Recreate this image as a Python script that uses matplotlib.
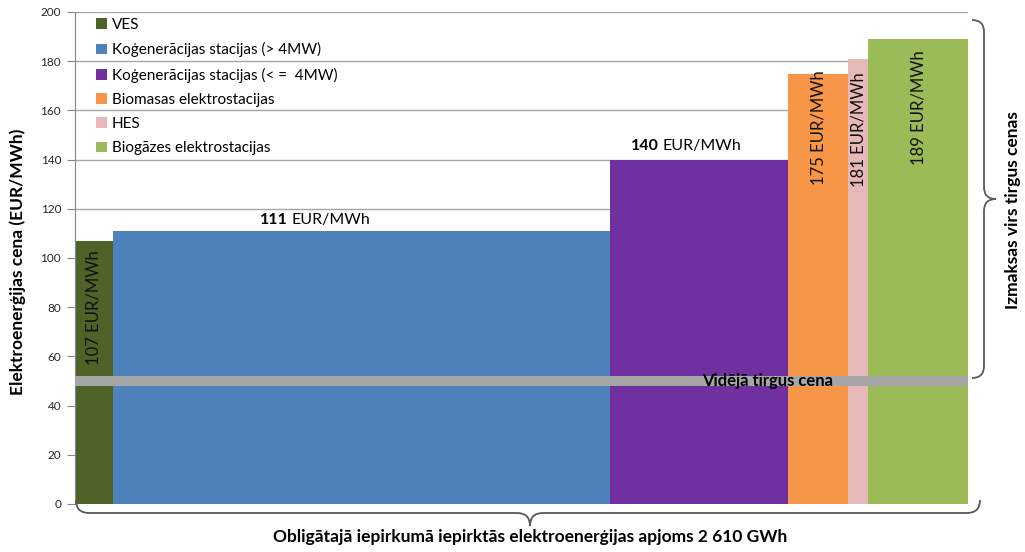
"""Obligatory procurement price chart: bar widths are volumes, heights are prices."""

import matplotlib

matplotlib.use("Agg")
import matplotlib.pyplot as plt
import numpy as np
from matplotlib.patches import Patch, PathPatch
from matplotlib.path import Path
from matplotlib.transforms import IdentityTransform

W, H = 1025, 552
FONT = "Lato"

CATEGORIES = ["VES", "Koģenerācijas stacijas (> 4MW)", "Koģenerācijas stacijas (< =  4MW)",
              "Biomasas elektrostacijas", "HES", "Biogāzes elektrostacijas"]
VOLUMES_GWH = [111, 1454, 520, 175, 58, 292]
PRICES = [107, 111, 140, 175, 181, 189]
COLORS = ["#4f6228", "#4f81bd", "#7030a0", "#f79646", "#e6b9b8", "#9bbb59"]
MARKET_PRICE = 50
TOTAL_LABEL = "Obligātajā iepirkumā iepirktās elektroenerģijas apjoms 2 610 GWh"
Y_TICKS = list(range(0, 201, 20))

plt.rcParams.update({
    "font.family": [FONT, "DejaVu Sans"],
    "axes.edgecolor": "#868686",
})


def brace(fig, start, end, depth, vertical, mid=None):
    """Curly brace in image pixels (origin top-left); bulges right/down by depth."""
    (xa, ya), (xb, yb) = start, end
    r = depth / 2.0
    if vertical:
        mid = (ya + yb) / 2.0 if mid is None else mid
        pts = [(xa, ya), (xa + r, ya), (xa + r, ya + r),
               (xa + r, mid - r),
               (xa + r, mid), (xa + 2 * r, mid),
               (xa + r, mid), (xa + r, mid + r),
               (xa + r, yb - r),
               (xa + r, yb), (xa, yb)]
    else:
        mid = (xa + xb) / 2.0 if mid is None else mid
        pts = [(xa, ya), (xa, ya + r), (xa + r, ya + r),
               (mid - r, ya + r),
               (mid, ya + r), (mid, ya + 2 * r),
               (mid, ya + r), (mid + r, ya + r),
               (xb - r, ya + r),
               (xb, ya + r), (xb, ya)]
    codes = [Path.MOVETO, Path.CURVE3, Path.CURVE3, Path.LINETO,
             Path.CURVE3, Path.CURVE3, Path.CURVE3, Path.CURVE3,
             Path.LINETO, Path.CURVE3, Path.CURVE3]
    verts = [(x, H - y) for x, y in pts]
    patch = PathPatch(Path(verts, codes), transform=IdentityTransform(), fill=False,
                      edgecolor="#595959", lw=1.3)
    fig.add_artist(patch)


fig = plt.figure(figsize=(W / 100, H / 100), dpi=100)
ax = fig.add_axes([75 / W, 1 - 504 / H, (968 - 75) / W, (504 - 12) / H])

lefts = np.concatenate([[0], np.cumsum(VOLUMES_GWH)[:-1]])
centers = lefts + np.array(VOLUMES_GWH) / 2.0
ax.bar(lefts, PRICES, width=VOLUMES_GWH, align="edge", color=COLORS, edgecolor="none", zorder=2)
total = float(sum(VOLUMES_GWH))
ax.set_xlim(0, total)
ax.set_ylim(0, 200)
ax.axhspan(MARKET_PRICE - 2.2, MARKET_PRICE + 2.2, color="#a6a6a6", zorder=3, lw=0)

ax.set_yticks(Y_TICKS)
ax.set_xticks([])
ax.yaxis.grid(True, color="#a6a6a6", lw=1)
ax.set_axisbelow(True)
for side in ("top", "right", "bottom"):
    ax.spines[side].set_visible(False)
ax.tick_params(axis="y", length=6, color="#868686", labelsize=8.5, labelcolor="#262626", pad=4)

# price labels
ax.text(centers[0], 80, f"{PRICES[0]} EUR/MWh", rotation=90, ha="center", va="center",
        fontsize=12, color="#111111", zorder=4)
for i, (x, y) in ((1, (622, 112.5)), (2, (1707, 142.5))):
    ax.text(x, y, str(PRICES[i]), ha="right", va="bottom", fontsize=11.5, weight="bold", zorder=4)
    ax.annotate("EUR/MWh", xy=(x, y), xytext=(2.5, 0), textcoords="offset points",
                ha="left", va="bottom", fontsize=11.5, zorder=4, annotation_clip=False)
for i, y in ((3, 153), (4, 152), (5, 161)):
    ax.text(centers[i], y, f"{PRICES[i]} EUR/MWh", rotation=90, ha="center", va="center",
            fontsize=12, color="#111111", zorder=4)

ax.text(2023, MARKET_PRICE, "Vidējā tirgus cena", ha="center", va="center", fontsize=12,
        weight="bold", zorder=5)

handles = [Patch(facecolor=c, edgecolor="none") for c in COLORS]
leg = ax.legend(handles, CATEGORIES, loc="upper left", bbox_to_anchor=(0.017, 1.0),
                frameon=False, fontsize=11, handlelength=0.7, handleheight=0.7,
                handletextpad=0.3, labelspacing=0.67, borderaxespad=0.0)

fig.text(18 / W, 1 - 262 / H, "Elektroenerģijas cena (EUR/MWh)", rotation=90, ha="center",
         va="center", fontsize=12.5, weight="bold")
fig.text(1013 / W, 1 - 210 / H, "Izmaksas virs tirgus cenas", rotation=90, ha="center",
         va="center", fontsize=12.5, weight="bold")
fig.text(530 / W, 1 - 537 / H, TOTAL_LABEL, ha="center", va="center", fontsize=12.5,
         weight="bold")

brace(fig, (972, 20), (972, 378), 24, vertical=True)
brace(fig, (76, 500), (980, 500), 26, vertical=False, mid=530)

fig.savefig("out.png", dpi=100)
